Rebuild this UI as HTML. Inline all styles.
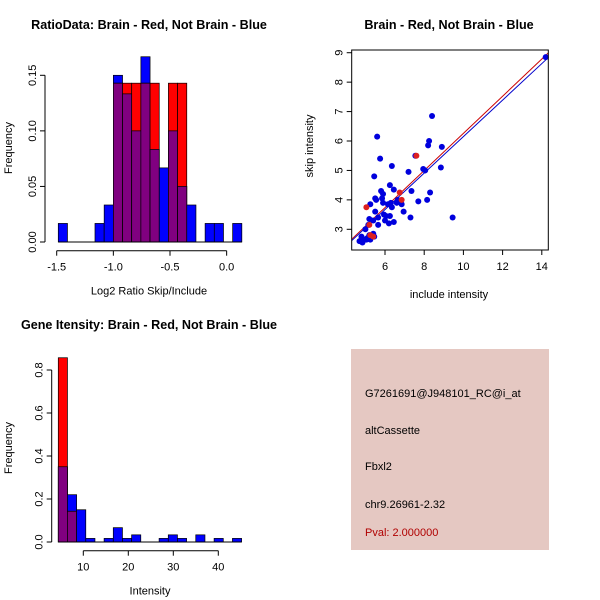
<!DOCTYPE html>
<html><head><meta charset="utf-8"><style>
body{margin:0;background:#fff}
svg{display:block;font-family:"Liberation Sans",sans-serif}
</style></head><body>
<svg id="s" width="600" height="600" xmlns="http://www.w3.org/2000/svg">
<rect width="600" height="600" fill="#fff"/>
<text x="149" y="29" font-size="12.6" font-weight="bold" text-anchor="middle">RatioData: Brain - Red, Not Brain - Blue</text>
<text x="449" y="29" font-size="12.6" font-weight="bold" text-anchor="middle">Brain - Red, Not Brain - Blue</text>
<text x="149" y="329" font-size="12.6" font-weight="bold" text-anchor="middle">Gene Itensity: Brain - Red, Not Brain - Blue</text>
<g id="p1"></g>
<g id="p2"></g>
<g id="p3"></g>
<g>
<rect x="351" y="349" width="198" height="201" fill="#e5c8c2"/>
<text x="365" y="397" font-size="11">G7261691@J948101_RC@i_at</text>
<text x="365" y="434" font-size="11">altCassette</text>
<text x="365" y="470" font-size="11">Fbxl2</text>
<text x="365" y="508" font-size="11">chr9.26961-2.32</text>
<text x="365" y="536" font-size="11" fill="#b00000">Pval: 2.000000</text>
</g>
</svg>
<script>
// Ratio histogram data
const ratioBlue=[0.0167,0,0,0,0.0167,0.0333,0.15,0.1333,0.1,0.1667,0.0833,0.0667,0.1,0.05,0.0333,0,0.0167,0.0167,0,0.0167];
const ratioRed=[0,0,0,0,0,0,0.1429,0.1429,0.1429,0.1429,0.1429,0,0.1429,0.1429,0,0,0,0,0,0];
const ratioXTicks=[-1.5,-1.0,-0.5,0.0];
const ratioYTicks=[0,0.05,0.10,0.15];
const ratioYLabels=["0.00","0.05","0.10","0.15"];
// Intensity histogram data
const intBlue=[0.35,0.22,0.15,0.0167,0,0.0167,0.0667,0.0167,0.0333,0,0,0.0167,0.0333,0.0167,0,0.0333,0,0.0167,0,0.0167];
const intRed=[0.857,0.143,0,0,0,0,0,0,0,0,0,0,0,0,0,0,0,0,0,0];
const intXTicks=[10,20,30,40];
const intYTicks=[0,0.2,0.4,0.6,0.8];
const intYLabels=["0.0","0.2","0.4","0.6","0.8"];
// Scatter data
const blueInc=[14.2,8.4,5.6,8.25,8.2,8.9,5.75,7.55,6.35,7.95,8.05,8.85,7.2,5.45,6.25,6.45,5.8,7.35,8.3,5.9,5.5,5.55,5.85,6.65,6.8,7.7,8.15,6.6,6.3,5.9,6.85,6.15,6.35,5.25,5.5,6.95,5.95,6.05,6.25,5.65,5.2,7.3,9.45,6.0,5.4,6.45,6.2,5.65,5.15,5.0,5.4,5.2,5.45,5.1,5.25,4.8,4.7,4.85,4.95,5.05];
const blueSkip=[8.85,6.85,6.15,6.0,5.85,5.8,5.4,5.5,5.15,5.05,5.0,5.1,4.95,4.8,4.5,4.35,4.3,4.3,4.25,4.2,4.05,4.0,4.05,4.0,3.95,3.95,4.0,3.9,3.9,3.9,3.85,3.85,3.75,3.85,3.6,3.6,3.5,3.45,3.45,3.4,3.35,3.4,3.4,3.3,3.3,3.25,3.2,3.15,3.15,3.0,2.85,2.8,2.75,2.7,2.65,2.75,2.6,2.55,2.65,2.65];
const redInc=[5.05,5.2,5.25,5.4,6.75,6.85,7.6];
const redSkip=[3.75,3.15,2.8,2.75,4.25,4.0,5.5];
const redFit=[0.631,-0.05];
const blueFit=[0.62,-0.05];
const xTicks2=[6,8,10,12,14];
const yTicks2=[3,4,5,6,7,8,9];

const NS="http://www.w3.org/2000/svg";
function mk(parent,tag,attrs){const e=document.createElementNS(NS,tag);for(const k in attrs)e.setAttribute(k,attrs[k]);parent.appendChild(e);return e;}

function hist(g,blue,red,x0,bw,xs,ys,xTicks,yTicks,yLabels,yAxisX,xAxisY,xLabel,xTickFmt,cx,cy){
  for(let i=0;i<blue.length;i++){
    const a=x0+i*bw,b=a+bw,xa=xs(a),xb=xs(b);
    if(blue[i]>0){const r=mk(g,'rect',{x:xa,y:ys(blue[i]),width:xb-xa,height:ys(0)-ys(blue[i]),fill:'#0000ff',stroke:'#000','stroke-width':0.7});
      
      }
    if(red[i]>0){const r=mk(g,'rect',{x:xa,y:ys(red[i]),width:xb-xa,height:ys(0)-ys(red[i]),fill:'#ff0000',stroke:'#000','stroke-width':0.7});
      
      }
    const m=Math.min(blue[i],red[i]);
    if(m>0){const r=mk(g,'rect',{x:xa,y:ys(m),width:xb-xa,height:ys(0)-ys(m),fill:'#800080',stroke:'#000','stroke-width':0.7});
      
      }
  }
  mk(g,'line',{x1:xs(x0),x2:xs(x0+bw*blue.length),y1:ys(0),y2:ys(0),stroke:'#000'});
  mk(g,'line',{x1:yAxisX,x2:yAxisX,y1:ys(yTicks[0]),y2:ys(yTicks[yTicks.length-1]),stroke:'#000'});
  yTicks.forEach((t,i)=>{mk(g,'line',{x1:yAxisX-5,x2:yAxisX,y1:ys(t),y2:ys(t),stroke:'#000'});
    const tx=mk(g,'text',{x:yAxisX-9,y:ys(t),'font-size':11,'text-anchor':'middle',transform:`rotate(-90 ${yAxisX-9} ${ys(t)})`});tx.textContent=yLabels[i];
    
    });
  mk(g,'line',{x1:xs(xTicks[0]),x2:xs(xTicks[xTicks.length-1]),y1:xAxisY,y2:xAxisY,stroke:'#000'});
  xTicks.forEach(t=>{mk(g,'line',{x1:xs(t),x2:xs(t),y1:xAxisY,y2:xAxisY+5,stroke:'#000'});
    const tx=mk(g,'text',{x:xs(t),y:xAxisY+20,'font-size':11,'text-anchor':'middle'});tx.textContent=xTickFmt(t);
    
    });
  const xl=mk(g,'text',{x:cx,y:xAxisY+44,'font-size':11,'text-anchor':'middle'});xl.textContent=xLabel;
  
  
  const yl=mk(g,'text',{x:12,y:cy,'font-size':11,'text-anchor':'middle',transform:`rotate(-90 12 ${cy})`});yl.textContent='Frequency';
  
  
}
// Plot 1
{const g=document.getElementById('p1');
 const xs=v=>56.7+(v+1.5)*113.3, ys=v=>242-v*(166.7/0.15);
 hist(g,ratioBlue,ratioRed,-1.486,0.081,xs,ys,ratioXTicks,ratioYTicks,ratioYLabels,45,250.7,'Log2 Ratio Skip/Include',t=>t.toFixed(1),149,148);}
// Plot 3
{const g=document.getElementById('p3');
 const xs=v=>83.3+(v-10)*4.5, ys=v=>542-v*215;
 hist(g,intBlue,intRed,4.44,2.037,xs,ys,intXTicks,intYTicks,intYLabels,51.7,550.7,'Intensity',t=>String(t),150,448);}
// Plot 2
{const g=document.getElementById('p2');
 const xs=v=>385+(v-6)*19.6, ys=v=>229.3-(v-3)*29.43;
 const L=351.7,R=548.3,T=50,B=250;
 const cp=mk(g,'clipPath',{id:'cl'});mk(cp,'rect',{x:L,y:T,width:R-L,height:B-T});
 const inv=px=>6+(px-385)/19.6;
 [[redFit,'#cc0000'],[blueFit,'#0000cc']].forEach(([f,c])=>{const x1=inv(L),x2=inv(R);
   const l=mk(g,'line',{x1:xs(x1),x2:xs(x2),y1:ys(f[0]*x1+f[1]),y2:ys(f[0]*x2+f[1]),stroke:c,'stroke-width':1,'clip-path':'url(#cl)'});
   
   });
 blueInc.forEach((v,i)=>{const c=mk(g,'circle',{cx:xs(v),cy:ys(blueSkip[i]),r:3,fill:'#0000dd'});
   
   });
 redInc.forEach((v,i)=>{const c=mk(g,'circle',{cx:xs(v),cy:ys(redSkip[i]),r:3,fill:'#dd2020'});
   
   });
 mk(g,'rect',{x:L,y:T,width:R-L,height:B-T,fill:'none',stroke:'#000'});
 xTicks2.forEach(t=>{mk(g,'line',{x1:xs(t),x2:xs(t),y1:B,y2:B+5,stroke:'#000'});
   const tx=mk(g,'text',{x:xs(t),y:B+20,'font-size':11,'text-anchor':'middle'});tx.textContent=t;
   
   });
 yTicks2.forEach(t=>{mk(g,'line',{x1:L-5,x2:L,y1:ys(t),y2:ys(t),stroke:'#000'});
   const tx=mk(g,'text',{x:L-9,y:ys(t),'font-size':11,'text-anchor':'middle',transform:`rotate(-90 ${L-9} ${ys(t)})`});tx.textContent=t;
   
   });
 const xl=mk(g,'text',{x:449,y:298,'font-size':11,'text-anchor':'middle'});xl.textContent='include intensity';
 
 
 const yl=mk(g,'text',{x:313,y:146,'font-size':11,'text-anchor':'middle',transform:'rotate(-90 313 146)'});yl.textContent='skip intensity';
 
 }
</script>
</body></html>
